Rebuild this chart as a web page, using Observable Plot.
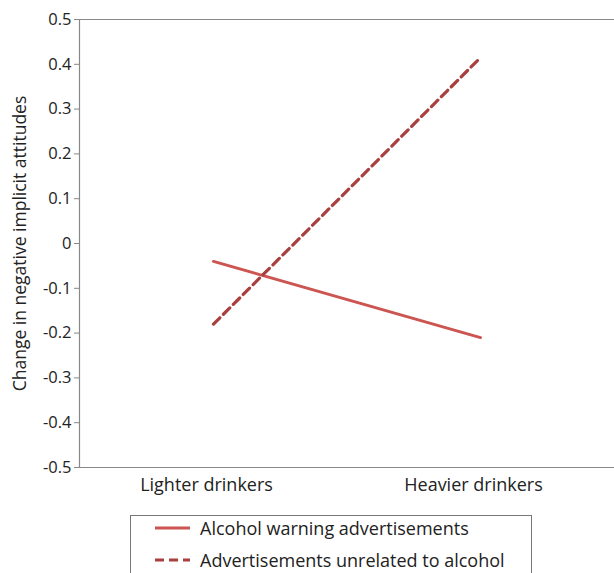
<!DOCTYPE html>
<html><head><meta charset="utf-8">
<script src="https://cdn.jsdelivr.net/npm/d3@7"></script>
<script src="https://cdn.jsdelivr.net/npm/@observablehq/plot@0.6"></script>
<style>
body{margin:0;background:#fff;font-family:"Open Sans",sans-serif;}
#legend{position:absolute;left:130px;top:515px;width:402px;height:70px;border:1px solid #777;border-bottom:none;box-sizing:border-box;background:#fff;}
.item{position:absolute;left:23px;font-size:18px;color:#222;display:flex;align-items:center;white-space:nowrap;line-height:24px;}
.item svg{margin-right:9px;}
</style></head><body>
<div id="chart"></div>
<div id="legend"></div>
<script>
const groups = ["Lighter drinkers", "Heavier drinkers"];
const seriesNames = ["Alcohol warning advertisements", "Advertisements unrelated to alcohol"];
const warningValues = [-0.04, -0.21];
const unrelatedValues = [-0.18, 0.415];
const yTicks = [-0.5, -0.4, -0.3, -0.2, -0.1, 0, 0.1, 0.2, 0.3, 0.4, 0.5];
const colors = ["#cc5552", "#a8403f"];

const warning = groups.map((g, i) => ({group: g, value: warningValues[i]}));
const unrelated = groups.map((g, i) => ({group: g, value: unrelatedValues[i]}));

const chart = Plot.plot({
  width: 614,
  height: 500,
  marginLeft: 79,
  marginRight: 0,
  marginTop: 19,
  marginBottom: 33,
  style: {fontFamily: "Open Sans", background: "#fff", color: "#222"},
  x: {type: "point", domain: groups, padding: 0.5},
  y: {domain: [-0.5, 0.5]},
  marks: [
    Plot.axisY({ticks: yTicks, tickFormat: d => d === 0 ? "0" : d.toFixed(1), tickSize: 5, tickPadding: 3, fontSize: 16.5, stroke: "#888", fill: "#222", label: null}),
    Plot.axisX({tickSize: 0, tickPadding: 11, dx: -7, fontSize: 18, fill: "#222", label: null}),
    Plot.text(["Change in negative implicit attitudes"], {frameAnchor: "left", textAnchor: "middle", dx: -59, rotate: -90, fontSize: 17.5, fill: "#222"}),
    Plot.frame({anchor: "left", stroke: "#888", strokeWidth: 1.2}),
    Plot.frame({anchor: "top", stroke: "#888", strokeWidth: 1.2}),
    Plot.frame({anchor: "bottom", stroke: "#888", strokeWidth: 1.2}),
    Plot.line(warning, {x: "group", y: "value", stroke: colors[0], strokeWidth: 3}),
    Plot.line(unrelated, {x: "group", y: "value", stroke: colors[1], strokeWidth: 3.2, strokeDasharray: "9,5"})
  ]
});
document.getElementById("chart").appendChild(chart);

const legend = document.getElementById("legend");
seriesNames.forEach((name, i) => {
  const div = document.createElement("div");
  div.className = "item";
  div.style.top = (i === 0 ? 0 : 32) + "px";
  div.innerHTML = `<svg width="37" height="8"><line x1="1" y1="4" x2="36" y2="4" stroke="${colors[i]}" stroke-width="3" ${i === 1 ? 'stroke-dasharray="9,5"' : ''}/></svg><span></span>`;
  div.querySelector("span").textContent = name;
  legend.appendChild(div);
});
</script>
</body></html>
